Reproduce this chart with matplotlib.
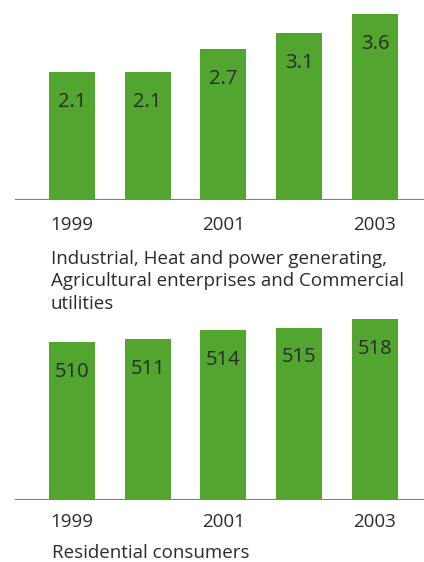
import matplotlib.pyplot as plt

plt.rcParams['font.family'] = ['Open Sans', 'DejaVu Sans']

years = ['1999', '2000', '2001', '2002', '2003']
tick_years = ['1999', '2001', '2003']
industrial = [2.1, 2.1, 2.7, 3.1, 3.6]
residential = [510, 511, 514, 515, 518]

green = '#52a52e'
text_col = '#2b2b2b'
W, H = 424, 562

fig = plt.figure(figsize=(W / 100, H / 100), dpi=100)


def panel(values, base, top, y_base_px, y_top_px, fmt, pad):
    # axes spans from baseline (px from top) up to y_top_px
    ax = fig.add_axes([15 / W, 1 - y_base_px / H, 409 / W, (y_base_px - y_top_px) / H])
    x = range(len(values))
    ax.bar(x, [v - base for v in values], bottom=base, width=0.607, color=green)
    ax.axhline(base, color=green, lw=2.2, zorder=3)
    for i, v in enumerate(values):
        ax.annotate(fmt.format(v), (i, v), xytext=(0, -21.5), textcoords='offset points',
                    ha='center', va='center', fontsize=14.5, color=text_col)
    ax.set_xlim(-0.752, 4.647)
    ax.set_ylim(base, top)
    ax.set_xticks([0, 2, 4], tick_years)
    ax.tick_params(axis='x', length=0, pad=pad, labelsize=13.5, labelcolor=text_col)
    ax.set_yticks([])
    for s in ax.spines.values():
        s.set_visible(False)
    return ax


panel(industrial, -1.18, 3.96, 199.5, 0, '{:.1f}', 12)
panel(residential, 455.4, 521.1, 499.5, 310, '{:d}', 9.5)

caption = ['Industrial, Heat and power generating,',
           'Agricultural enterprises and Commercial',
           'utilities']
for k, line in enumerate(caption):
    fig.text(51 / W, 1 - (259 + 22.5 * k) / H, line, ha='left', va='center',
             fontsize=13.5, color=text_col)
fig.text(52 / W, 1 - 553 / H, 'Residential consumers', ha='left', va='center',
         fontsize=13.5, color=text_col)

fig.savefig('out.png', dpi=100)
